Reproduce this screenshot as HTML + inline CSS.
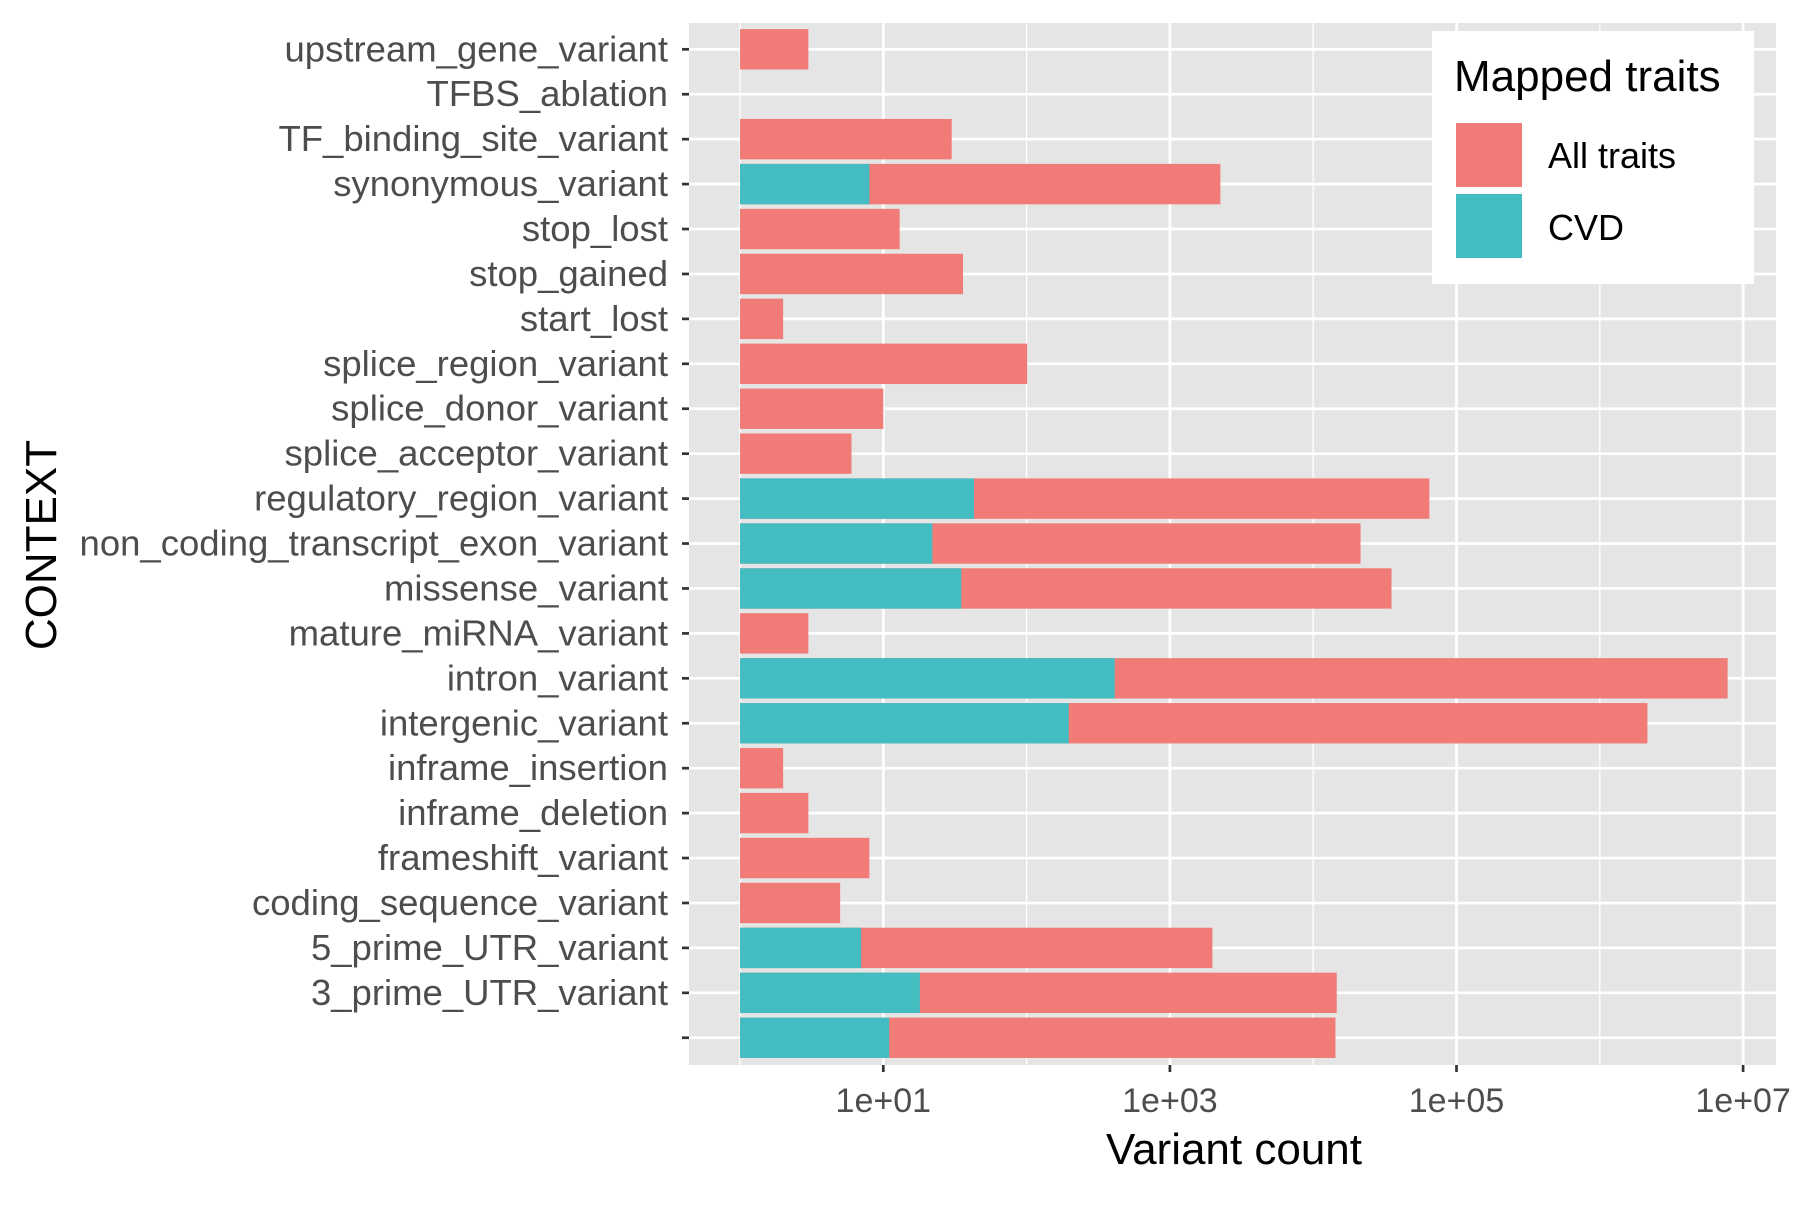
<!DOCTYPE html>
<html><head><meta charset="utf-8"><style>
html,body{margin:0;padding:0;background:#fff}
svg text{font-family:"Liberation Sans",Arial,sans-serif}
</style></head><body>
<svg id="chart" width="1800" height="1200" viewBox="0 0 1800 1200" xmlns="http://www.w3.org/2000/svg">
<rect x="689" y="23" width="1087" height="1042" fill="#E5E5E5"/>
<g id="grid"></g><g id="bars"></g><g id="axes"></g>
<text x="1234" y="1164" font-size="44" text-anchor="middle" fill="#000">Variant count</text>
<text transform="translate(56,545) rotate(-90)" font-size="44" text-anchor="middle" fill="#000">CONTEXT</text>
<g>
<rect x="1432" y="31" width="322" height="253" fill="#fff"/>
<text x="1454" y="91" font-size="44" fill="#000">Mapped traits</text>
<rect x="1456" y="123" width="66" height="64" fill="#F17C77"/>
<text x="1548" y="168" font-size="36" fill="#000">All traits</text>
<rect x="1456" y="194" width="66" height="64" fill="#43BDC1"/>
<text x="1548" y="240" font-size="36" fill="#000">CVD</text>
</g>
</svg>
<script>
const categories=["upstream_gene_variant","TFBS_ablation","TF_binding_site_variant","synonymous_variant","stop_lost","stop_gained","start_lost","splice_region_variant","splice_donor_variant","splice_acceptor_variant","regulatory_region_variant","non_coding_transcript_exon_variant","missense_variant","mature_miRNA_variant","intron_variant","intergenic_variant","inframe_insertion","inframe_deletion","frameshift_variant","coding_sequence_variant","5_prime_UTR_variant","3_prime_UTR_variant",""];
const allTraits=[3,1,30,2250,13,36,2,101,10,6,64700,21400,35200,3,7800000,2150000,2,3,8,5,1980,14600,14300];
const cvd=[0,0,0,8,0,0,0,0,0,0,43,22,35,0,412,197,0,0,0,0,7,18,11];
const xTickValues=[1e1,1e3,1e5,1e7];
const xTickLabels=["1e+01","1e+03","1e+05","1e+07"];
const xMinorValues=[1,1e2,1e4,1e6];

const NS="http://www.w3.org/2000/svg";
const x0=740, perDec=143.3;
function xs(v){return x0+Math.log10(v)*perDec;}
function ys(i){return 49.3+i*44.93;}
const barH=40.4;
function mk(tag,attrs,parent){const e=document.createElementNS(NS,tag);for(const k in attrs)e.setAttribute(k,attrs[k]);parent.appendChild(e);return e;}
const grid=document.getElementById('grid'),bars=document.getElementById('bars'),axes=document.getElementById('axes');
xMinorValues.forEach(v=>{const l=mk('line',{x1:xs(v),x2:xs(v),y1:23,y2:1065,stroke:'#fff','stroke-width':1.3},grid);

});
xTickValues.forEach((v,i)=>{const l=mk('line',{x1:xs(v),x2:xs(v),y1:23,y2:1065,stroke:'#fff','stroke-width':2.7},grid);


const t=mk('line',{x1:xs(v),x2:xs(v),y1:1065,y2:1072,stroke:'#333','stroke-width':2.7},axes);


const tx=mk('text',{x:xs(v),y:1112,'font-size':34,'text-anchor':'middle',fill:'#4D4D4D'},axes);
tx.textContent=xTickLabels[i];

});
categories.forEach((c,i)=>{const y=ys(i);
const g=mk('line',{x1:689,x2:1776,y1:y,y2:y,stroke:'#fff','stroke-width':2.7},grid);


const t=mk('line',{x1:682,x2:689,y1:y,y2:y,stroke:'#333','stroke-width':2.7},axes);


const tx=mk('text',{x:668,y:y+12,'font-size':36.5,'text-anchor':'end',fill:'#4D4D4D'},axes);
tx.textContent=c;


if(allTraits[i]>1){const r=mk('rect',{x:xs(1),y:y-barH/2,width:xs(allTraits[i])-xs(1),height:barH,fill:'#F17C77'},bars);

}
if(cvd[i]>1){const r=mk('rect',{x:xs(1),y:y-barH/2,width:xs(cvd[i])-xs(1),height:barH,fill:'#43BDC1'},bars);

}
});
</script>
</body></html>
